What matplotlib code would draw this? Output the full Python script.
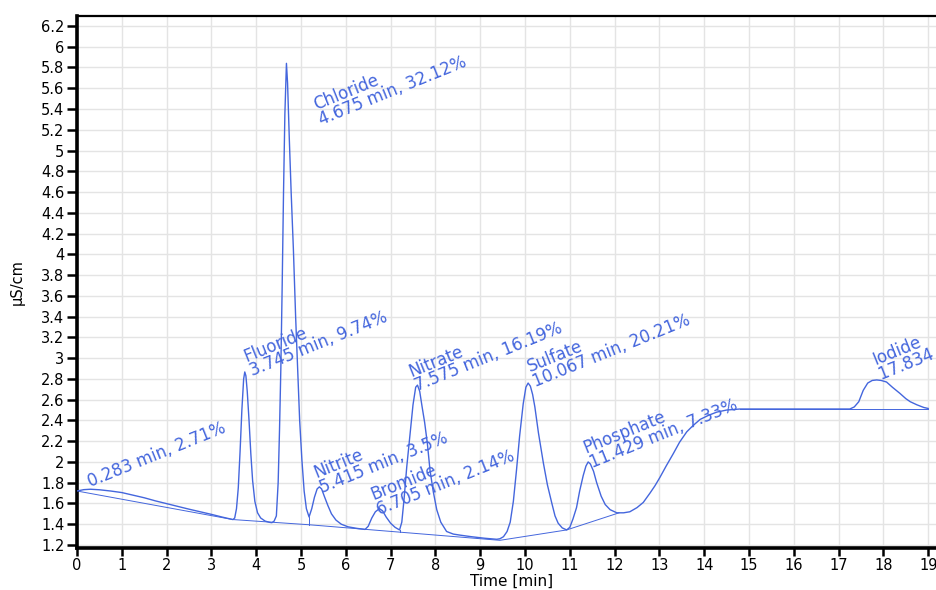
import numpy as np
import matplotlib
matplotlib.use('Agg')
import matplotlib.pyplot as plt

plt.rcParams.update({
    'font.family': 'DejaVu Sans',
    'font.size': 10.5,
})

BLUE = '#4466dd'

# chromatogram trace (time [min], conductivity [uS/cm])
time = [0.00, 0.15, 0.30, 0.50, 0.75, 1.00, 1.25, 1.50, 1.75, 2.00, 2.25, 2.50,
        2.75, 3.00, 3.25, 3.48, 3.52, 3.56, 3.60, 3.64, 3.68, 3.72, 3.745, 3.77,
        3.80, 3.84, 3.88, 3.92, 3.97, 4.03, 4.10, 4.20, 4.30, 4.35, 4.40, 4.45,
        4.49, 4.52, 4.55, 4.58, 4.61, 4.64, 4.675, 4.70, 4.74, 4.78, 4.83, 4.88,
        4.92, 4.97, 5.02, 5.07, 5.12, 5.18, 5.24, 5.30, 5.36, 5.41, 5.46, 5.52,
        5.60, 5.68, 5.78, 5.90, 6.05, 6.25, 6.43, 6.50, 6.58, 6.66, 6.75, 6.82,
        6.90, 7.00, 7.10, 7.20, 7.25, 7.30, 7.36, 7.43, 7.50, 7.56, 7.60, 7.65,
        7.70, 7.76, 7.82, 7.88, 7.95, 8.03, 8.12, 8.25, 8.40, 8.55, 8.80, 9.10,
        9.37, 9.44, 9.52, 9.60, 9.67, 9.74, 9.81, 9.88, 9.96, 10.02, 10.07, 10.12,
        10.17, 10.22, 10.30, 10.41, 10.50, 10.60, 10.67, 10.74, 10.83, 10.93, 11.00, 11.07,
        11.15, 11.22, 11.30, 11.36, 11.41, 11.46, 11.53, 11.60, 11.70, 11.79, 11.90, 12.05,
        12.20, 12.34, 12.50, 12.64, 12.79, 12.90, 13.01, 13.15, 13.31, 13.45, 13.61, 13.75,
        13.91, 14.10, 14.28, 14.50, 14.80, 15.50, 16.50, 17.25, 17.35, 17.45, 17.55, 17.65,
        17.75, 17.85, 17.95, 18.07, 18.20, 18.37, 18.50, 18.60, 18.75, 18.90, 19.00]
signal = [1.720, 1.733, 1.737, 1.732, 1.720, 1.705, 1.680, 1.655, 1.625, 1.598, 1.570, 1.545,
          1.520, 1.495, 1.468, 1.445, 1.460, 1.550, 1.750, 2.100, 2.500, 2.800, 2.867, 2.830,
          2.680, 2.400, 2.080, 1.820, 1.620, 1.510, 1.460, 1.430, 1.418, 1.415, 1.430, 1.480,
          1.800, 2.300, 2.900, 3.700, 4.600, 5.350, 5.840, 5.650, 5.100, 4.600, 4.050, 3.400,
          2.950, 2.400, 2.020, 1.720, 1.550, 1.470, 1.550, 1.660, 1.740, 1.760, 1.740, 1.670,
          1.580, 1.500, 1.440, 1.400, 1.375, 1.360, 1.350, 1.380, 1.460, 1.520, 1.550, 1.530,
          1.470, 1.410, 1.370, 1.345, 1.420, 1.640, 1.950, 2.250, 2.550, 2.720, 2.740, 2.680,
          2.540, 2.380, 2.180, 1.920, 1.720, 1.540, 1.420, 1.330, 1.305, 1.295, 1.280, 1.265,
          1.255, 1.260, 1.280, 1.330, 1.420, 1.620, 1.920, 2.250, 2.560, 2.720, 2.760, 2.730,
          2.650, 2.530, 2.280, 1.990, 1.780, 1.600, 1.480, 1.410, 1.365, 1.345, 1.370, 1.450,
          1.560, 1.720, 1.870, 1.960, 2.000, 1.980, 1.910, 1.800, 1.670, 1.590, 1.540, 1.510,
          1.510, 1.520, 1.560, 1.610, 1.700, 1.770, 1.850, 1.960, 2.080, 2.190, 2.290, 2.350,
          2.410, 2.450, 2.480, 2.500, 2.510, 2.510, 2.510, 2.510, 2.530, 2.580, 2.690, 2.760,
          2.785, 2.790, 2.785, 2.770, 2.720, 2.660, 2.610, 2.580, 2.550, 2.525, 2.515]

# integration baseline segments
base_time = [0.00, 3.48, 5.18, 9.44, 10.93, 12.10]
base_val = [1.720, 1.445, 1.395, 1.245, 1.345, 1.510]
base2_time = [14.80, 19.00]
base2_val = [2.510, 2.510]
drop_times = [5.18, 7.20]

# peak labels
peak_names = ['', 'Fluoride', 'Chloride', 'Nitrite', 'Bromide', 'Nitrate',
              'Sulfate', 'Phosphate', 'Iodide']
peak_rt = ['0.283', '3.745', '4.675', '5.415', '6.705', '7.575', '10.067',
           '11.429', '17.834']
peak_pct = ['2.71', '9.74', '32.12', '3.5', '2.14', '16.19', '20.21', '7.33', '6.06']
label_offsets = [(1.5, -1), (6.5, -6), (26.5, -47), (3, -7), (2.5, -6),
                 (1.5, -6.3), (6.6, -5.3), (3.3, -6.3), (4.7, -2.7)]

W, H = 937, 590
fig = plt.figure(figsize=(W / 100, H / 100), dpi=100)
ax = fig.add_axes([77 / W, 42 / H, (941 - 77) / W, (548 - 16) / H])

ax.plot(time, signal, color=BLUE, lw=1.0, zorder=3)
ax.plot(base_time, base_val, color=BLUE, lw=0.7, zorder=2)
ax.plot(base2_time, base2_val, color=BLUE, lw=0.7, zorder=2)
for t in drop_times:
    ax.plot([t, t], [np.interp(t, base_time, base_val), np.interp(t, time, signal)],
            color=BLUE, lw=0.7, zorder=2)

for name, rt, pct, off in zip(peak_names, peak_rt, peak_pct, label_offsets):
    x = float(rt)
    y = np.interp(x, time, signal)
    txt = f'{rt} min, {pct}%' if not name else f'{name}\n{rt} min, {pct}%'
    ax.annotate(txt, xy=(x, y), xytext=off, textcoords='offset points',
                rotation=22, rotation_mode='anchor', ha='left', va='bottom',
                fontsize=12, linespacing=0.85, color=BLUE, annotation_clip=False)

ax.set_xlim(0, (941 - 77) / 44.8)
ax.set_ylim(1.171, 6.296)
ax.set_xticks(range(0, 20))
yt = np.round(np.arange(1.2, 6.21, 0.2), 1)
ax.set_yticks(yt)
ax.set_yticklabels([f'{v:g}' for v in yt])
ax.grid(True, color='#e4e4e4', lw=1.0, zorder=0)
ax.set_axisbelow(True)

for s in ['left', 'bottom']:
    ax.spines[s].set_linewidth(2.6)
    ax.spines[s].set_color('black')
ax.spines['top'].set_linewidth(1.6)
ax.spines['right'].set_visible(False)
ax.tick_params(direction='out', length=7, width=1.8, colors='black',
               labelsize=10.5, pad=2)
ax.tick_params(axis='x', length=6, pad=1)

fig.text(17 / W, 1 - 282 / H, 'µS/cm', rotation=90, ha='center', va='center',
         fontsize=10.5)
fig.text(512 / W, 4 / H, 'Time [min]', ha='center', va='baseline', fontsize=11)

fig.savefig('out.png', dpi=100)
